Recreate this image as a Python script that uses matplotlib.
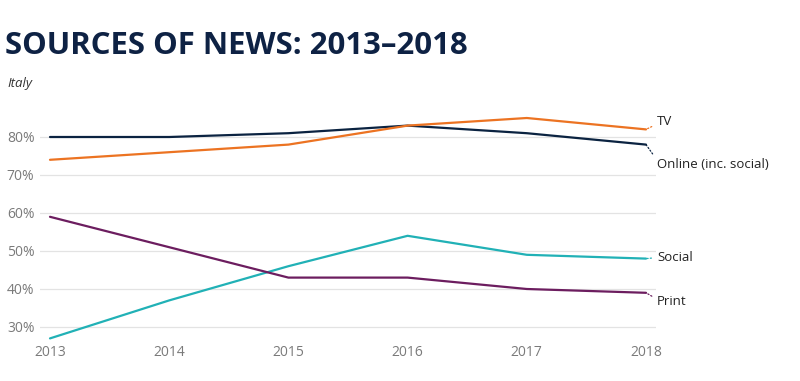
import matplotlib
matplotlib.use('Agg')
from matplotlib import pyplot as plt

# data (Italy, % using each source for news)
years = [2013, 2014, 2015, 2016, 2017, 2018]
online = [80, 80, 81, 83, 81, 78]
tv = [74, 76, 78, 83, 85, 82]
social = [27, 37, 46, 54, 49, 48]
printed = [59, 51, 43, 43, 40, 39]
yticks = [30, 40, 50, 60, 70, 80]

# name, values, colour, label offset (px), where the connector meets the label
series = [
    ('Online (inc. social)', online, '#0b2341', (11, -20), (0, 0.85)),
    ('TV', tv, '#ec7322', (11, 8), (0, 0.3)),
    ('Social', social, '#21b1b6', (11, 1), (0, 0.5)),
    ('Print', printed, '#6c1d5f', (11, -9), (0, 0.7)),
]

plt.rcParams['font.family'] = ['Open Sans', 'DejaVu Sans']

fig = plt.figure(figsize=(8, 3.81), dpi=100)
ax = fig.add_axes([40/800, 1 - 342/381, 616/800, 232/381])

for name, vals, col, off, rel in series:
    ax.plot(years, vals, color=col, lw=1.6, solid_capstyle='round', zorder=3)
    ax.annotate(name, xy=(years[-1], vals[-1]),
                xytext=(off[0]*0.72, off[1]*0.72), textcoords='offset points',
                ha='left', va='center', fontsize=9.5, color='#222222',
                arrowprops=dict(arrowstyle='-', linestyle=':', color=col, lw=0.9,
                                shrinkA=2, shrinkB=0, relpos=rel),
                annotation_clip=False)

ax.set_xlim(2013 - 10/119.2, 2018 + 10/119.2)
ax.set_ylim(80 - (342-137)/3.8, 80 + 27/3.8)
ax.set_yticks(yticks)
ax.set_yticklabels([f'{v}%' for v in yticks])
ax.set_xticks(years)
ax.grid(axis='y', color='#e3e3e3', lw=0.9)
ax.set_axisbelow(True)
for s in ax.spines.values():
    s.set_visible(False)
ax.tick_params(length=0, labelsize=10, labelcolor='#7a7a7a')
ax.tick_params(axis='y', pad=4)
ax.tick_params(axis='x', pad=2)

fig.text(5/800, 1 - 46/381, 'SOURCES OF NEWS: 2013–2018', fontsize=22.4, fontweight='bold',
         color='#0e2244', ha='left', va='center')
fig.text(7/800, 1 - 83/381, 'Italy', fontsize=9.5, style='italic', color='#333333',
         ha='left', va='center')

fig.savefig('out.png', dpi=100)
